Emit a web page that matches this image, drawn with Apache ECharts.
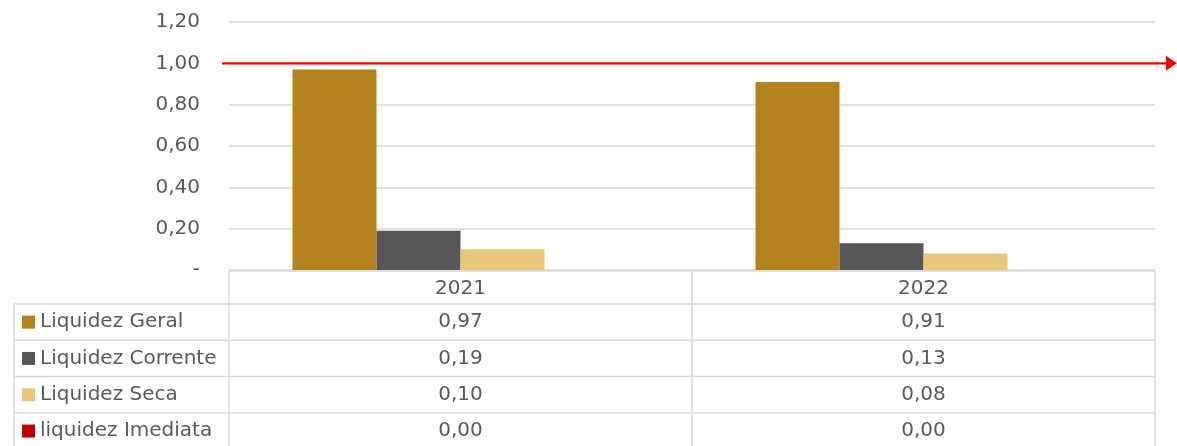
<!DOCTYPE html>
<html>
<head>
<meta charset="utf-8">
<script src="https://cdn.jsdelivr.net/npm/echarts@6/dist/echarts.min.js"></script>
<style>
  html, body { margin: 0; padding: 0; background: #fff; }
  #chart { width: 1177px; height: 446px; }
</style>
</head>
<body>
<div id="chart"></div>
<script>
const categories = ["2021", "2022"];
const seriesNames = ["Liquidez Geral", "Liquidez Corrente", "Liquidez Seca", "liquidez Imediata"];
const liquidezGeral = [0.97, 0.91];
const liquidezCorrente = [0.19, 0.13];
const liquidezSeca = [0.1, 0.08];
const liquidezImediata = [0.0, 0.0];
const referenceLevel = 1.0;

const allValues = [liquidezGeral, liquidezCorrente, liquidezSeca, liquidezImediata];
const colors = ["#b3821f", "#575757", "#e8c77a", "#c00000"];
const textColor = "#595959";
const lineColor = "#d9d9d9";
const font = "DejaVu Sans";

const fmt = (v) => v.toFixed(2).replace(".", ",");

const myChart = echarts.init(document.getElementById("chart"));

let option = {
  backgroundColor: "#fff",
  animation: false,
  grid: { left: 229, right: 22, top: 22, bottom: 176 },
  xAxis: {
    type: "category",
    data: categories,
    axisLine: { show: false },
    axisTick: { show: false },
    axisLabel: { show: false },
  },
  yAxis: {
    type: "value",
    min: 0,
    max: 1.2,
    interval: 0.2,
    axisLine: { show: false },
    axisTick: { show: false },
    axisLabel: {
      margin: 29,
      color: textColor,
      fontFamily: font,
      fontSize: 20,
      formatter: (v) => (v === 0 ? "-" : fmt(v)),
    },
    splitLine: { lineStyle: { color: lineColor, width: 1.5 } },
  },
  series: allValues.map((d, i) => ({
    name: seriesNames[i],
    type: "bar",
    barWidth: 84,
    barGap: 0,
    itemStyle: { color: colors[i] },
    data: d,
  })),
};
myChart.setOption(option);

// table below the axis + reference arrow
const xs = categories.map((c) => myChart.convertToPixel({ xAxisIndex: 0 }, c));
const yRef = myChart.convertToPixel({ yAxisIndex: 0 }, referenceLevel);
const gLeft = 229, gRight = 1155, gMid = (xs[0] + xs[1]) / 2;
const tTop = 271, headBottom = 304, rowH = 36.3, tLeft = 14;

let graphic = [];
const line = (x1, y1, x2, y2) =>
  graphic.push({ type: "line", shape: { x1, y1, x2, y2 }, style: { stroke: lineColor, lineWidth: 1.5 } });
const text = (t, x, y, align) =>
  graphic.push({
    type: "text",
    x, y,
    style: { text: t, fill: textColor, font: "20px " + font, align: align, verticalAlign: "middle" },
  });

line(gLeft, tTop, gRight, tTop);
line(gLeft, tTop, gLeft, 446);
line(gMid, tTop, gMid, 446);
line(gRight, tTop, gRight, 446);
line(tLeft, headBottom, tLeft, 446);
categories.forEach((c, j) => text(c, xs[j], (tTop + headBottom) / 2 + 1, "center"));
seriesNames.forEach((name, i) => {
  const top = headBottom + i * rowH;
  line(tLeft, top, gRight, top);
  const cy = top + rowH / 2;
  graphic.push({ type: "rect", shape: { x: 22, y: cy - 6.5, width: 13, height: 13 }, style: { fill: colors[i] } });
  text(name, 40, cy, "left");
  allValues[i].forEach((v, j) => text(fmt(v), xs[j], cy, "center"));
});

graphic.push({ type: "line", shape: { x1: 222, y1: yRef, x2: 1168, y2: yRef }, style: { stroke: "#ff0000", lineWidth: 2.2 } });
graphic.push({ type: "polygon", shape: { points: [[1166, yRef - 7.5], [1177, yRef], [1166, yRef + 7.5]] }, style: { fill: "#ff0000" } });

myChart.setOption({ graphic: graphic });

window.onresize = function () {
  myChart.resize();
};
</script>
</body>
</html>
